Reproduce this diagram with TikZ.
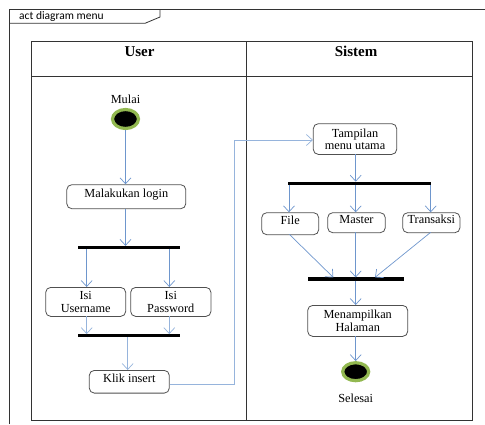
\documentclass[tikz,border=0pt]{standalone}
\usepackage{fontspec}
\setmainfont{Liberation Serif}
\newfontfamily\tabfont{Carlito}
\usetikzlibrary{arrows.meta,shapes.geometric}
\definecolor{flow}{RGB}{110,150,205}
\definecolor{flowpale}{RGB}{150,180,220}
\definecolor{ringgreen}{RGB}{146,184,80}
\definecolor{boxgray}{RGB}{80,80,80}
\begin{document}
\begin{tikzpicture}[x=1pt,y=-1pt,
  act/.style={draw=boxgray,line width=0.8pt,rounded corners=5pt,align=center,font=\fontsize{12.3}{12.5}\selectfont,inner sep=1pt},
  bar/.style={fill=black,inner sep=0pt},
  flowline/.style={draw=flow,line width=0.7pt,-{Straight Barb[length=6pt,width=11pt,line width=0.7pt]}},
  lbl/.style={font=\fontsize{12.3}{12.5}\selectfont},
  hdr/.style={font=\fontsize{15}{16}\selectfont\bfseries},
  node0/.style={draw=ringgreen,line width=3.2pt,fill=black,ellipse,inner sep=0pt}]
\useasboundingbox (0,0) rectangle (485,424);
% outer frame
\draw[line width=0.8pt,draw=black!80] (9.3,424) -- (9.3,9.3) -- (485,9.3);
\draw[line width=0.8pt,draw=black!80] (9.3,23.3) -- (145,23.3) -- (160,17) -- (160,9.3);
\node[font=\tabfont\fontsize{11.5}{12}\selectfont,anchor=west,inner sep=0pt] (tab) at (19,16) {act diagram menu};
% swimlanes
\draw[line width=0.8pt,draw=black!80] (31.7,41.7) rectangle (472.3,420.7);
\draw[line width=0.8pt,draw=black!80] (31.7,76) -- (472.3,76);
\draw[line width=0.8pt,draw=black!80] (246.7,41.7) -- (246.7,420.7);
\node[hdr] (huser) at (139.5,51.5) {User};
\node[hdr] (hsis) at (356,51.5) {Sistem};
% start
\node[lbl] (mulai) at (125.5,99.5) {Mulai};
\node[node0,minimum width=26pt,minimum height=19pt] (start) at (125.5,119) {};
% user lane
\node[act,minimum width=119pt,minimum height=24pt,anchor=north] (login) at (126.3,184.3) {};
\node[lbl,anchor=north] (logint) at (126.3,185) {Malakukan login};
\node[bar,minimum width=102.3pt,minimum height=3.2pt] (f1) at (128.8,247.7) {};
\node[act,minimum width=80pt,minimum height=29pt,anchor=north] (user) at (85.7,287) {Isi\\Username};
\node[act,minimum width=80.3pt,minimum height=29pt,anchor=north] (pass) at (170.8,287) {Isi\\Password};
\node[bar,minimum width=102.3pt,minimum height=3.2pt] (j1) at (128.8,335.7) {};
\node[act,minimum width=80pt,minimum height=22.7pt,anchor=north] (klik) at (129.3,370) {};
\node[lbl,anchor=north] (klikt) at (129.3,370) {Klik insert};
% system lane
\node[act,minimum width=83.4pt,minimum height=30.7pt,anchor=north] (menu) at (355,123.3) {Tampilan\\menu utama};
\node[bar,minimum width=142.4pt,minimum height=3.2pt] (f2) at (359.5,183.3) {};
\node[act,minimum width=57pt,minimum height=22pt,anchor=north] (file) at (290.2,212.3) {};
\node[lbl,anchor=north] (filet) at (290.2,212) {File};
\node[act,minimum width=57.6pt,minimum height=20pt,anchor=north] (master) at (356.5,212.3) {};
\node[lbl,anchor=north] (mastert) at (356.5,211.5) {Master};
\node[act,minimum width=57.3pt,minimum height=20pt,anchor=north] (trans) at (431.3,212.3) {};
\node[lbl,anchor=north] (transt) at (431.3,211.5) {Transaksi};
\node[bar,minimum width=95.7pt,minimum height=3.2pt] (j2) at (356.2,279) {};
\node[act,minimum width=100pt,minimum height=31pt,anchor=north] (tampil) at (357.7,305) {Menampilkan\\Halaman};
\node[node0,minimum width=26pt,minimum height=18pt] (end) at (355.7,371.7) {};
\node[lbl] (selesai) at (355.7,398.5) {Selesai};
% flows
\draw[flowline] (start) -- (login.north -| start);
\draw[flowline] (login.south -| start) -- (f1.north -| start);
\draw[flowline] (86.7,249.3) -- (86.7,287);
\draw[flowline] (169.3,249.3) -- (169.3,287);
\draw[flowline,draw=flowpale] (86.7,316) -- (86.7,334.1);
\draw[flowline,draw=flowpale] (169.3,316) -- (169.3,334.1);
\draw[flowline,draw=flowpale] (127.7,337.3) -- (127.7,370);
\coordinate (c1) at (234,384);
\coordinate (c2) at (234,140);
\draw[flowline,draw=flowpale] (klik.east |- c1) -- (c1) -- (c2) -- (menu.west |- c2);
\draw[flowline] (355.7,154) -- (355.7,181.7);
\draw[flowline] (289,184.9) -- (289,212.3);
\draw[flowline] (355.7,184.9) -- (355.7,212.3);
\draw[flowline] (430.7,184.9) -- (430.7,212.3);
\draw[flowline] (289.3,234.3) -- (333.3,277.4);
\draw[flowline] (355.7,232.3) -- (355.7,277.4);
\draw[flowline] (430.7,232.3) -- (375,277.4);
\draw[flowline] (355.7,280.6) -- (355.7,305);
\draw[flowline] (355.7,336) -- (end.north);
\end{tikzpicture}
\end{document}
